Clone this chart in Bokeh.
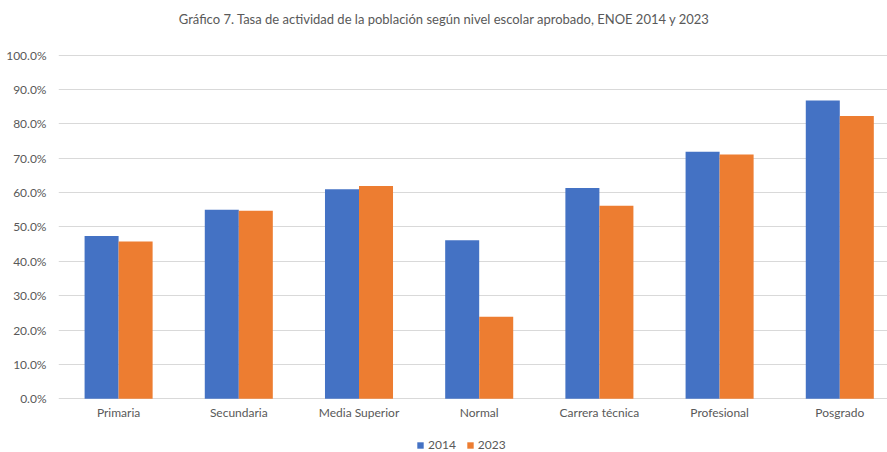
import numpy as np
from bokeh.plotting import figure
from bokeh.models import ColumnDataSource, FixedTicker, Range1d, Legend, LegendItem, NumeralTickFormatter, Label
from bokeh.core.properties import value
from bokeh.transform import dodge
from bokeh.embed import file_html
from bokeh.resources import INLINE

categories = ["Primaria", "Secundaria", "Media Superior", "Normal",
              "Carrera técnica", "Profesional", "Posgrado"]
tasa_2014 = [0.474, 0.550, 0.610, 0.461, 0.613, 0.719, 0.868]
tasa_2023 = [0.458, 0.547, 0.619, 0.239, 0.562, 0.711, 0.823]
y_ticks = [0.0, 0.1, 0.2, 0.3, 0.4, 0.5, 0.6, 0.7, 0.8, 0.9, 1.0]
title = "Gráfico 7. Tasa de actividad de la población según nivel escolar aprobado, ENOE 2014 y 2023"

FONT = "Lato"
TEXT = "#595959"
BLUE = "#4472C4"
ORANGE = "#ED7D31"

W, H = 887, 452
LEFT = 58
PX_PER_UNIT = 343.7          # pixels spanned by 100 %
BASE_FROM_BOTTOM = 53.7      # room under the baseline for labels + legend
PX_PER_CAT = 120.2

y_start = -BASE_FROM_BOTTOM / PX_PER_UNIT
y_end = (H - BASE_FROM_BOTTOM) / PX_PER_UNIT
x_end = (W - LEFT) / PX_PER_CAT

def px_to_y(py):
    """Canvas pixel row -> data y."""
    return (H - BASE_FROM_BOTTOM - py) / PX_PER_UNIT

def px_to_x(px):
    return (px - LEFT) / PX_PER_CAT

centers = np.arange(len(categories)) + 0.5
src = ColumnDataSource(dict(x=centers, a=tasa_2014, b=tasa_2023))
lab = ColumnDataSource(dict(x=centers, y=np.full(len(centers), -14 / PX_PER_UNIT), t=categories))

p = figure(width=W, height=H, output_backend="svg", toolbar_location=None,
           x_range=Range1d(0, x_end), y_range=Range1d(y_start, y_end),
           min_border_left=LEFT, min_border_right=0, min_border_top=0,
           min_border_bottom=0, outline_line_color=None)

bw = 0.283
r1 = p.vbar(x=dodge("x", -bw / 2, range=p.x_range), top="a", width=bw,
            source=src, fill_color=BLUE, line_color=None)
r2 = p.vbar(x=dodge("x", bw / 2, range=p.x_range), top="b", width=bw,
            source=src, fill_color=ORANGE, line_color=None)

# category names under the baseline
p.text(x="x", y="y", text="t", source=lab, text_font=value(FONT),
       text_font_size="12px", text_color=TEXT, text_align="center",
       text_baseline="middle")

# chart title
p.add_layout(Label(x=px_to_x(444), y=px_to_y(18), text=title,
                   text_font=FONT, text_font_size="13px", text_color=TEXT,
                   text_align="center", text_baseline="middle"))

p.xaxis.visible = False

p.yaxis.ticker = FixedTicker(ticks=y_ticks)
p.yaxis.formatter = NumeralTickFormatter(format="0.0%")
p.yaxis.major_tick_line_color = None
p.yaxis.minor_tick_line_color = None
p.yaxis.axis_line_color = None
p.yaxis.major_label_text_font = FONT
p.yaxis.major_label_text_font_size = "12px"
p.yaxis.major_label_text_color = TEXT
p.yaxis.major_label_standoff = 6

p.xgrid.grid_line_color = None
p.ygrid.grid_line_color = "#d9d9d9"
p.ygrid.grid_line_width = 1

legend = Legend(items=[LegendItem(label="2014", renderers=[r1]),
                       LegendItem(label="2023", renderers=[r2])],
                orientation="horizontal", location=(358, 0),
                label_text_font=FONT, label_text_font_size="12px",
                label_text_color=TEXT, glyph_width=8, glyph_height=8,
                label_standoff=4, spacing=10, padding=0, margin=0,
                label_height=10, border_line_color=None, background_fill_alpha=0)
p.add_layout(legend)

open("out.html", "w").write(file_html(p, INLINE))
